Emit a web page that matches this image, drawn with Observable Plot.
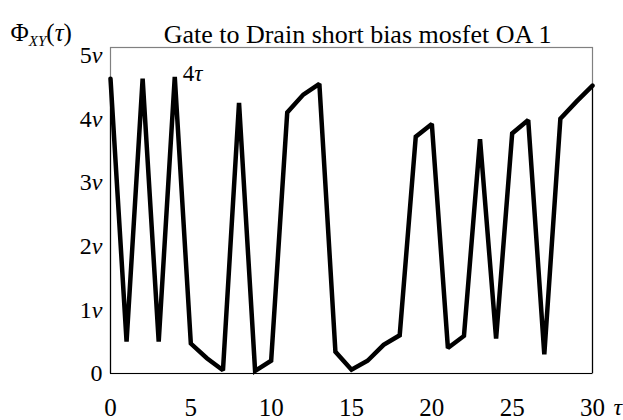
<!DOCTYPE html>
<html><head><meta charset="utf-8">
<script src="https://cdn.jsdelivr.net/npm/d3@7"></script>
<script src="https://cdn.jsdelivr.net/npm/@observablehq/plot@0.6"></script>
<style>body{margin:0;background:#fff} svg{display:block} svg text{font-family:'Liberation Serif','Times New Roman',serif}</style>
</head><body><div id="chart"></div>
<script>
// ---- data ----
const tau = [0,1,2,3,4,5,6,7,8,9,10,11,12,13,14,15,16,17,18,19,20,21,22,23,24,25,26,27,28,29,30];
const phi = [4.63,0.5,4.63,0.5,4.66,0.47,0.24,0.05,4.25,0.04,0.2,4.1,4.38,4.55,0.34,0.06,0.2,0.45,0.6,3.72,3.92,0.4,0.59,3.68,0.55,3.77,3.98,0.3,4.0,4.27,4.52];
const xTicks = [0,5,10,15,20,25,30];
const yTicks = [0,1,2,3,4,5];
const yTickLabels = ["0","1v","2v","3v","4v","5v"];
const titleText = "Gate to Drain short bias mosfet OA 1";
const yLabelText = "ΦXY(τ)";
const xLabelText = "τ";
const annotationText = "4τ";
const annotationAt = 4;

const data = tau.map((t, i) => ({t, v: phi[i]}));
const ends = [data[0], data[data.length - 1]];
const serif = "'Liberation Serif', 'Times New Roman', serif";

const plot = Plot.plot({
  width: 623, height: 420,
  marginLeft: 110, marginRight: 31, marginTop: 47, marginBottom: 47,
  style: {fontFamily: serif, background: "#fff", color: "#000", overflow: "visible"},
  x: {domain: [0, 30]},
  y: {domain: [0, 5.12]},
  marks: [
    Plot.frame({stroke: "#808080", strokeWidth: 1.2}),
    Plot.ruleY([0], {stroke: "#000", strokeWidth: 1.2}),
    Plot.ruleX(ends, {x: "t", y1: 0, y2: "v", stroke: "#000", strokeWidth: 1.2}),
    Plot.axisY(yTicks, {tickSize: 0, tickPadding: 8, fontSize: 24, fontFamily: serif, label: null,
      tickFormat: (d) => yTickLabels[yTicks.indexOf(d)]}),
    Plot.axisX(xTicks, {tickSize: 0, tickPadding: 25, fontSize: 25, fontFamily: serif, label: null}),
    Plot.line(data, {x: "t", y: "v", stroke: "#000", strokeWidth: 4.5, strokeLinejoin: "miter", strokeMiterlimit: 2}),
    Plot.text([annotationText], {x: () => annotationAt, y: () => phi[annotationAt], textAnchor: "start", dx: 8, dy: -3, fontSize: 23, fontFamily: serif}),
    Plot.text([titleText], {frameAnchor: "top", dx: 6, dy: -23, fontSize: 26, fontFamily: serif}),
    Plot.text([yLabelText], {frameAnchor: "top-left", textAnchor: "start", dx: -100, dy: -24, fontSize: 25, fontFamily: serif}),
    Plot.text([xLabelText], {frameAnchor: "bottom-right", textAnchor: "start", dx: 21, dy: 41, fontSize: 24, fontFamily: serif})
  ]
});
document.getElementById("chart").appendChild(plot);

// ---- rich text (italics / subscript) ----
const NS = "http://www.w3.org/2000/svg";
function rich(el, parts) {
  el.textContent = "";
  for (const [s, attrs] of parts) {
    const ts = document.createElementNS(NS, "tspan");
    ts.textContent = s;
    for (const k in (attrs || {})) ts.setAttribute(k, attrs[k]);
    el.appendChild(ts);
  }
}
for (const el of plot.querySelectorAll("text")) {
  const s = el.textContent;
  if (/^\dv$/.test(s)) rich(el, [[s[0]], ["v", {"font-style": "italic"}]]);
  else if (s === annotationText) rich(el, [["4"], ["τ", {"font-style": "italic"}]]);
  else if (s === xLabelText) rich(el, [["τ", {"font-style": "italic"}]]);
  else if (s === yLabelText) rich(el, [["Φ"], ["XY", {"font-style": "italic", "font-size": 15, dy: 5}], ["(", {dy: -5}], ["τ", {"font-style": "italic"}], [")"]]);
}
</script>
</body></html>
